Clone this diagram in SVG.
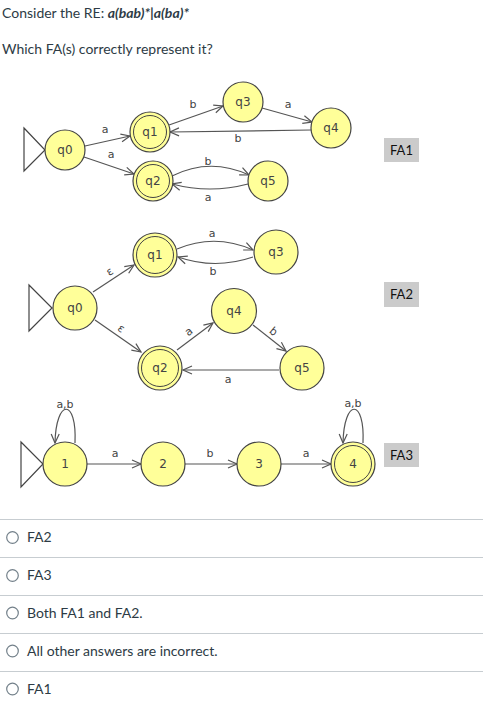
<svg xmlns="http://www.w3.org/2000/svg" width="483" height="712" viewBox="0 0 483 712">
<style>
.q{font-family:Lato,"Liberation Sans",sans-serif;font-size:14px;fill:#2d3b45}
.st{fill:#ffff99;stroke:#444;stroke-width:1.2}
.in{fill:none;stroke:#444;stroke-width:1}
.nl{font-family:"DejaVu Sans",sans-serif;font-size:12px;fill:#444;text-anchor:middle}
.el{font-family:"DejaVu Sans",sans-serif;font-size:11px;fill:#444;text-anchor:middle}
.e{fill:none;stroke:#555;stroke-width:1.2;marker-end:url(#ah)}
.tri{fill:none;stroke:#444;stroke-width:1.2}
.box{fill:#cbcbcb}
.bl{font-family:Lato,"Liberation Sans",sans-serif;font-size:13px;fill:#111;text-anchor:middle}
.sep{stroke:#c7cdd1;stroke-width:1}
.rb{fill:#fff;stroke:#73808a;stroke-width:1.2}
</style>
<defs>
<marker id="ah" markerUnits="userSpaceOnUse" markerWidth="12" markerHeight="12" refX="10" refY="5" orient="auto">
<path d="M1,1 L10,5 L1,9" fill="none" stroke="#555" stroke-width="1.2"/>
</marker>
</defs>
<rect width="483" height="712" fill="#fff"/>

<text class="q" x="2" y="18">Consider the RE: <tspan font-weight="bold" font-style="italic">a(bab)*|a(ba)*</tspan></text>
<text class="q" x="2" y="54">Which FA(s) correctly represent it?</text>

<!-- FA1 -->
<g id="fa1-connectors">
<path class="e" d="M85,146 L130,136"/>
<path class="e" d="M84,157 L134,174"/>
<path class="e" d="M169,125 L223,106"/>
<path class="e" d="M262,108 L312,122"/>
<path class="e" d="M311,130 L170,132"/>
<path class="e" d="M172,176 Q210,157 249,175"/>
<path class="e" d="M248,184 Q210,194 172,184"/>
<text class="el" x="105" y="133">a</text>
<text class="el" x="111" y="158">a</text>
<text class="el" x="193" y="108">b</text>
<text class="el" x="288" y="108">a</text>
<text class="el" x="238" y="142">b</text>
<text class="el" x="208" y="165">b</text>
<text class="el" x="208" y="201">a</text>
</g>
<g id="fa1-q0"><path class="tri" d="M24,128 L45,150 L24,171 Z"/><circle class="st" cx="65" cy="150" r="20"/><text class="nl" x="65" y="154">q0</text></g>
<g id="fa1-q1"><circle class="st" cx="150" cy="132" r="20"/><circle class="in" cx="150" cy="132" r="16.5"/><text class="nl" x="150" y="136">q1</text></g>
<g id="fa1-q2"><circle class="st" cx="153" cy="181" r="20"/><circle class="in" cx="153" cy="181" r="16.5"/><text class="nl" x="153" y="185">q2</text></g>
<g id="fa1-q3"><circle class="st" cx="243" cy="102" r="20"/><text class="nl" x="243" y="106">q3</text></g>
<g id="fa1-q4"><circle class="st" cx="331" cy="128" r="20"/><text class="nl" x="331" y="132">q4</text></g>
<g id="fa1-q5"><circle class="st" cx="268" cy="181" r="20"/><text class="nl" x="268" y="185">q5</text></g>
<g id="fa1-label"><rect class="box" x="384" y="138" width="35" height="24"/><text class="bl" x="401.5" y="155">FA1</text></g>

<!-- FA2 -->
<g id="fa2-connectors">
<path class="e" d="M93,292 L134,265"/>
<path class="e" d="M95,320 L141,352"/>
<path class="e" d="M177,249 Q215,233 253,250"/>
<path class="e" d="M253,257 Q215,270 178,257"/>
<path class="e" d="M177,350 L213,323"/>
<path class="e" d="M253,325 L286,351"/>
<path class="e" d="M279,370 L183,370"/>
<text class="el" x="110" y="275" transform="rotate(-34 110 272)">ε</text>
<text class="el" x="121" y="332" transform="rotate(35 121 329)">ε</text>
<text class="el" x="212" y="237">a</text>
<text class="el" x="213" y="275">b</text>
<text class="el" x="189" y="335" transform="rotate(-38 189 332)">a</text>
<text class="el" x="273" y="335" transform="rotate(40 273 332)">b</text>
<text class="el" x="228" y="383">a</text>
</g>
<g id="fa2-q0"><path class="tri" d="M29,285 L52,308 L29,331 Z"/><circle class="st" cx="75" cy="308" r="22"/><text class="nl" x="75" y="312">q0</text></g>
<g id="fa2-q1"><circle class="st" cx="155" cy="255" r="22"/><circle class="in" cx="155" cy="255" r="18.5"/><text class="nl" x="155" y="259">q1</text></g>
<g id="fa2-q2"><circle class="st" cx="160" cy="368" r="22"/><circle class="in" cx="160" cy="368" r="18.5"/><text class="nl" x="160" y="372">q2</text></g>
<g id="fa2-q3"><circle class="st" cx="276" cy="252" r="22"/><text class="nl" x="276" y="256">q3</text></g>
<g id="fa2-q4"><circle class="st" cx="234" cy="311" r="22.5"/><text class="nl" x="234" y="315">q4</text></g>
<g id="fa2-q5"><circle class="st" cx="302" cy="368" r="22"/><text class="nl" x="302" y="372">q5</text></g>
<g id="fa2-label"><rect class="box" x="384" y="282" width="35" height="25"/><text class="bl" x="401.5" y="299">FA2</text></g>

<!-- FA3 -->
<g id="fa3-connectors">
<path class="e" d="M75,443 C77,398 56,398 55,443"/>
<path class="e" d="M363,443 C365,398 344,398 343,443"/>
<path class="e" d="M87,464 L141,464"/>
<path class="e" d="M185,464 L237,464"/>
<path class="e" d="M281,464 L331,464"/>
<text class="el" x="65" y="408">a,b</text>
<text class="el" x="353" y="407">a,b</text>
<text class="el" x="115" y="457">a</text>
<text class="el" x="210" y="457">b</text>
<text class="el" x="306" y="457">a</text>
</g>
<g id="fa3-1"><path class="tri" d="M21,442 L43,464 L21,487 Z"/><circle class="st" cx="65" cy="464" r="22"/><text class="nl" x="65" y="468">1</text></g>
<g id="fa3-2"><circle class="st" cx="163" cy="464" r="22"/><text class="nl" x="163" y="468">2</text></g>
<g id="fa3-3"><circle class="st" cx="259" cy="464" r="22"/><text class="nl" x="259" y="468">3</text></g>
<g id="fa3-4"><circle class="st" cx="353" cy="464" r="22"/><circle class="in" cx="353" cy="464" r="18.5"/><text class="nl" x="353" y="468">4</text></g>
<g id="fa3-label"><rect class="box" x="384" y="443" width="35" height="24"/><text class="bl" x="401.5" y="460">FA3</text></g>

<!-- Options -->
<g id="options">
<line class="sep" x1="0" y1="519.5" x2="483" y2="519.5"/>
<line class="sep" x1="0" y1="557.5" x2="483" y2="557.5"/>
<line class="sep" x1="0" y1="595.5" x2="483" y2="595.5"/>
<line class="sep" x1="0" y1="633.5" x2="483" y2="633.5"/>
<line class="sep" x1="0" y1="671.5" x2="483" y2="671.5"/>
<circle class="rb" cx="12.5" cy="537.5" r="5.8"/>
<circle class="rb" cx="12.5" cy="575.5" r="5.8"/>
<circle class="rb" cx="12.5" cy="613" r="5.8"/>
<circle class="rb" cx="12.5" cy="651" r="5.8"/>
<circle class="rb" cx="12.5" cy="689" r="5.8"/>
<text class="q" x="27" y="542">FA2</text>
<text class="q" x="27" y="580">FA3</text>
<text class="q" x="27" y="618">Both FA1 and FA2.</text>
<text class="q" x="27" y="656">All other answers are incorrect.</text>
<text class="q" x="27" y="694">FA1</text>
</g>
</svg>
